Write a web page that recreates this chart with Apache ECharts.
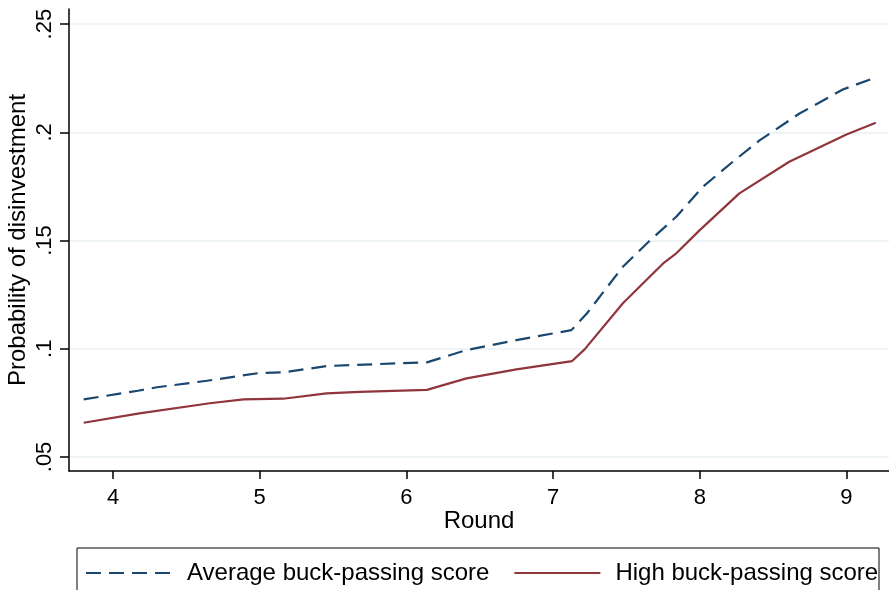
<!DOCTYPE html>
<html>
<head>
<meta charset="utf-8">
<script src="https://cdn.jsdelivr.net/npm/echarts@6/dist/echarts.min.js"></script>
<style>html,body{margin:0;padding:0;background:#fff}#c{width:889px;height:590px}</style>
</head>
<body>
<div id="c"></div>
<script>
var avgX = [3.80, 4.17, 4.30, 4.64, 5.00, 5.16, 5.46, 5.80, 6.14, 6.41, 6.75, 7.125, 7.23, 7.476, 7.66, 7.84, 8.02, 8.225, 8.41, 8.68, 8.975, 9.18];
var avgY = [0.0766, 0.0806, 0.0822, 0.0852, 0.0888, 0.0891, 0.0920, 0.0929, 0.0937, 0.0994, 0.1040, 0.1086, 0.1163, 0.1379, 0.1500, 0.1610, 0.1748, 0.1864, 0.1964, 0.2087, 0.2198, 0.2249];
var highX = [3.80, 4.18, 4.66, 4.89, 5.16, 5.456, 5.68, 6.14, 6.41, 6.75, 7.13, 7.215, 7.476, 7.75, 7.84, 8.00, 8.27, 8.61, 9.00, 9.20];
var highY = [0.0658, 0.0701, 0.0748, 0.0766, 0.0769, 0.0794, 0.0801, 0.0810, 0.0863, 0.0905, 0.0943, 0.0997, 0.1210, 0.1394, 0.1441, 0.1548, 0.1718, 0.1864, 0.1990, 0.2044];
var xTicks = [4, 5, 6, 7, 8, 9];
var yTicks = [0.05, 0.1, 0.15, 0.2, 0.25];
var yTickLabels = ['.05', '.1', '.15', '.2', '.25'];
var seriesNames = ['Average buck-passing score', 'High buck-passing score'];

function pairs(xs, ys) { return xs.map(function (x, i) { return [x, ys[i]]; }); }

var font = 'Liberation Sans, Arial, Helvetica, sans-serif';
var chart = echarts.init(document.getElementById('c'), null, {renderer: 'canvas'});
chart.setOption({
  animation: false,
  backgroundColor: '#fff',
  grid: {left: 69, right: 0, top: 9, bottom: 119, containLabel: false, outerBoundsMode: 'none'},
  xAxis: {
    type: 'value', min: 3.7, max: 9.29,
    name: 'Round', nameLocation: 'middle', nameGap: 38, nameMoveOverlap: false,
    nameTextStyle: {fontFamily: font, fontSize: 24, color: '#000'},
    axisLine: {show: true, onZero: false, lineStyle: {color: '#000', width: 1.5}},
    axisTick: {show: true, length: 8, customValues: xTicks, lineStyle: {color: '#000', width: 1.5}},
    axisLabel: {customValues: xTicks, margin: 16, fontFamily: font, fontSize: 22, color: '#000'},
    splitLine: {show: false}
  },
  yAxis: {
    type: 'value', min: 0.0435, max: 0.257,
    name: 'Probability of disinvestment', nameLocation: 'middle', nameGap: 39, nameMoveOverlap: false,
    nameTextStyle: {fontFamily: font, fontSize: 24, color: '#000'},
    axisLine: {show: true, onZero: false, lineStyle: {color: '#000', width: 1.5}},
    axisTick: {show: true, length: 9, customValues: yTicks, lineStyle: {color: '#000', width: 1.5}},
    axisLabel: {customValues: yTicks, rotate: 90, margin: 13, fontFamily: font, fontSize: 22, color: '#000',
      formatter: function (v) { var i = yTicks.findIndex(function (t) { return Math.abs(t - v) < 1e-9; }); return i >= 0 ? yTickLabels[i] : ''; }},
    splitLine: {show: true, lineStyle: {color: '#eaf2f3', width: 1.5}}
  },
  legend: {
    left: 85, top: 561, itemWidth: 86, itemHeight: 14, itemGap: 24, padding: 0,
    itemStyle: {opacity: 0},
    textStyle: {fontFamily: font, fontSize: 24, color: '#000', padding: [0, 0, 0, 10]},
    data: seriesNames
  },
  graphic: [{type: 'rect', shape: {x: 77, y: 548, width: 802, height: 60}, style: {fill: 'none', stroke: '#000', lineWidth: 1}, silent: true}],
  series: [
    {name: seriesNames[0], type: 'line', data: pairs(avgX, avgY), showSymbol: false, symbol: 'none',
     lineStyle: {color: '#1a476f', width: 2.2, type: [15, 8]}, itemStyle: {color: '#1a476f'}},
    {name: seriesNames[1], type: 'line', data: pairs(highX, highY), showSymbol: false, symbol: 'none',
     lineStyle: {color: '#90353b', width: 2.2}, itemStyle: {color: '#90353b'}}
  ]
});
</script>
</body>
</html>
